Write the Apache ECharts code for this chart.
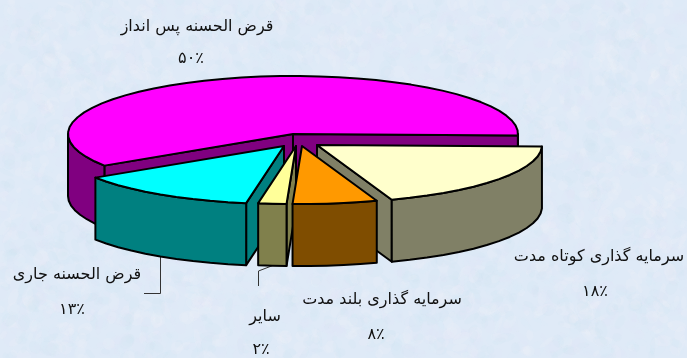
<!DOCTYPE html>
<html><head><meta charset="utf-8">
<style>html,body{margin:0;padding:0;background:#dfe9f6}#c{width:687px;height:358px}</style>
<script src="https://cdn.jsdelivr.net/npm/echarts@6/dist/echarts.min.js"></script>
</head><body><div id="c"></div>
<script>
// Data: slice sizes as drawn, and the printed labels.
const categories = ['سرمایه گذاری کوتاه مدت','سرمایه گذاری بلند مدت','سایر','قرض الحسنه جاری','قرض الحسنه پس انداز'];
const plottedShares = [19, 6, 2, 13, 59];
const printedLabels = ['۱۸٪','۸٪','۲٪','۱۳٪','۵۰٪'];
const topColors  = ['#ffffcc','#ff9900','#ffff99','#00ffff','#ff00ff'];
const wallColors = ['#808066','#7f4d00','#80804c','#008080','#800080'];
const explodeX = [24, 9, 3, -9, 0];
const explodeY = [11, 12, 12, 12, 0];
const labelX = [599,382,265,77,197], labelY = [257,300,317,275,27];
const pctX = [595,376,261,72,191],  pctY = [292,335,350,310,59];

const CX=293, CY=134, RX=225, RY=58, DEPTH=62, START=1.5;
const total = plottedShares.reduce((a,b)=>a+b,0);
const rad = d=>d*Math.PI/180;
const drawOrder = [4,0,3,2,1];

function renderSlice(params, api){
  const i = api.value(0), share = api.value(1);
  let a0 = START;
  for(let k=0;k<i;k++) a0 += plottedShares[k]/total*360;
  const a1 = a0 + share/total*360;
  const ox = CX+api.value(2), oy = CY+api.value(3);
  const pt=(d,drop)=>[ox+RX*Math.cos(rad(d)), oy+RY*Math.sin(rad(d))+(drop||0)];
  const arc=(s,e,drop)=>{const p=[];const n=Math.max(1,Math.ceil((e-s)/5));for(let j=0;j<=n;j++)p.push(pt(s+(e-s)*j/n,drop));return p;};
  const line={stroke:'#000',lineWidth:2,lineJoin:'round'};
  const kids=[];
  const poly=(points,fill)=>kids.push({type:'polygon',shape:{points},style:Object.assign({fill},line)});
  const wall=api.value(4), top=api.value(5);
  // radial walls that face the viewer
  if(Math.cos(rad(a0))<0){const e=pt(a0);poly([[ox,oy],e,[e[0],e[1]+DEPTH],[ox,oy+DEPTH]],wall);}
  if(Math.cos(rad(a1))>0){const e=pt(a1);poly([[ox,oy],e,[e[0],e[1]+DEPTH],[ox,oy+DEPTH]],wall);}
  // outer rim: only the near half of the ellipse shows
  [0,360].forEach(base=>{
    const s=Math.max(a0,base), e=Math.min(a1,base+180);
    if(e>s) poly(arc(s,e,0).concat(arc(s,e,DEPTH).reverse()),wall);
  });
  poly([[ox,oy]].concat(arc(a0,a1,0)),top);
  return {type:'group',children:kids};
}

// Mottled paper backdrop
function paper(){
  const c=document.createElement('canvas');c.width=687;c.height=358;
  const g=c.getContext('2d');g.fillStyle='#dfeaf7';g.fillRect(0,0,687,358);
  let s=12345;const r=()=>(s=(s*16807)%2147483647)/2147483647;
  const tones=['rgba(240,245,251,.16)','rgba(208,224,243,.14)','rgba(232,228,243,.12)','rgba(218,234,249,.16)'];
  for(let k=0;k<5000;k++){
    const x=r()*687,y=r()*358,w=2+r()*8,h=2+r()*5;
    g.fillStyle=tones[Math.floor(r()*4)];
    g.beginPath();g.ellipse(x,y,w,h,r()*3,0,7);g.fill();
  }
  return c;
}

const font='"DejaVu Sans"';
const texts=[];
categories.forEach((t,i)=>{
  texts.push({type:'text',x:labelX[i],y:labelY[i],style:{text:t,font:'16px '+font,fill:'#111',align:'center',verticalAlign:'middle'}});
  texts.push({type:'text',x:pctX[i],y:pctY[i],style:{text:printedLabels[i],font:'16px '+font,fill:'#111',align:'center',verticalAlign:'middle'}});
});
const leader={stroke:'#333',lineWidth:1,fill:'none'};
texts.push({type:'polyline',shape:{points:[[160.5,257],[160.5,293.5],[144,293.5]]},style:leader});
texts.push({type:'polyline',shape:{points:[[258.5,286],[258.5,271],[274,265]]},style:leader});

const chart=echarts.init(document.getElementById('c'),null,{renderer:'canvas'});
chart.setOption({
  animation:false,
  backgroundColor:{image:paper(),repeat:'no-repeat'},
  graphic:texts,
  series:[{
    type:'custom',coordinateSystem:'none',silent:true,
    renderItem:renderSlice,
    data:drawOrder.map(i=>[i,plottedShares[i],explodeX[i],explodeY[i],wallColors[i],topColors[i],categories[i]])
  }]
});
</script></body></html>
